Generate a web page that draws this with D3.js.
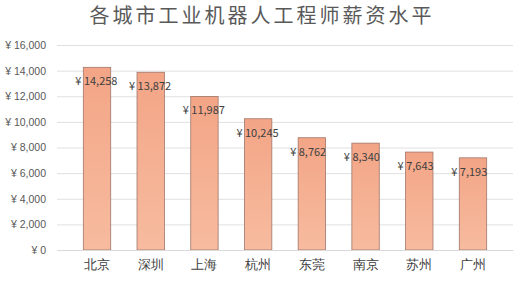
<!DOCTYPE html>
<html>
<head>
<meta charset="utf-8">
<script src="https://cdn.jsdelivr.net/npm/d3@7"></script>
<style>
  body { margin: 0; background: #fff; }
  svg { display: block; font-family: "Noto Sans CJK SC", "Microsoft YaHei", sans-serif; }
</style>
</head>
<body>
<div id="chart"></div>
<script>
// Dados do gráfico
const cities = ['北京', '深圳', '上海', '杭州', '东莞', '南京', '苏州', '广州'];
const salaries = [14258, 13872, 11987, 10245, 8762, 8340, 7643, 7193];
const yTicks = [0, 2000, 4000, 6000, 8000, 10000, 12000, 14000, 16000];
const title = '各城市工业机器人工程师薪资水平';

const width = 521, height = 281;
const margin = { top: 45, right: 8, bottom: 31, left: 57 };

const svg = d3.select('#chart')
  .append('svg')
  .attr('width', width)
  .attr('height', height);

// Gradiente das barras
const grad = svg.append('defs').append('linearGradient')
  .attr('id', 'barGrad')
  .attr('x1', 0).attr('y1', 0).attr('x2', 0).attr('y2', 1);
grad.append('stop').attr('offset', '0%').attr('stop-color', '#f3a586');
grad.append('stop').attr('offset', '100%').attr('stop-color', '#f7bb9f');

// Escalas
const x = d3.scaleBand()
  .domain(cities)
  .range([margin.left, width - margin.right])
  .padding(0.49);

const y = d3.scaleLinear()
  .domain([0, 16000])
  .range([height - margin.bottom, margin.top]);

const yen = d => '¥ ' + d3.format(',')(d);

// Titulo
svg.append('text')
  .attr('x', 262)
  .attr('y', 23)
  .attr('text-anchor', 'middle')
  .attr('font-size', 20)
  .attr('letter-spacing', 3)
  .attr('fill', '#595959')
  .text(title);

// Linhas de grade + eixo Y
const yAxis = d3.axisLeft(y)
  .tickValues(yTicks)
  .tickSize(-(width - margin.left - margin.right))
  .tickPadding(11)
  .tickFormat(yen);

svg.append('g')
  .attr('transform', `translate(${margin.left},0)`)
  .call(yAxis)
  .call(g => g.select('.domain').remove())
  .call(g => g.selectAll('.tick line').attr('stroke', '#e0e0e0'))
  .call(g => g.selectAll('.tick text')
    .attr('fill', '#595959')
    .attr('font-size', 10.5));

// Barras
svg.selectAll('.bar')
  .data(salaries)
  .enter()
  .append('rect')
  .attr('class', 'bar')
  .attr('x', (d, i) => x(cities[i]))
  .attr('y', d => y(d))
  .attr('width', x.bandwidth())
  .attr('height', d => y(0) - y(d))
  .attr('fill', 'url(#barGrad)')
  .attr('stroke', '#a0756a')
  .attr('stroke-width', 0.8);

// Rótulos de valor
svg.selectAll('.label')
  .data(salaries)
  .enter()
  .append('text')
  .attr('class', 'label')
  .attr('x', (d, i) => x(cities[i]) - 8)
  .attr('y', d => y(d) + 18)
  .attr('font-size', 11)
  .attr('fill', '#404040')
  .text(yen);

// Eixo X
const xAxis = d3.axisBottom(x).tickSize(0).tickPadding(10);
svg.append('g')
  .attr('transform', `translate(0,${y(0)})`)
  .call(xAxis)
  .call(g => g.select('.domain').attr('stroke', '#d9d9d9'))
  .call(g => g.selectAll('.tick text')
    .attr('fill', '#404040')
    .attr('font-size', 12.5));
</script>
</body>
</html>
